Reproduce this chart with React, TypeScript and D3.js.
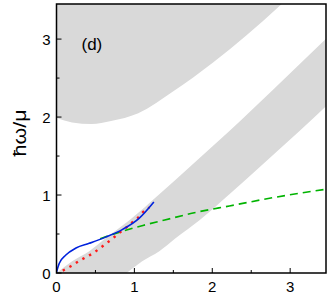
import * as d3 from "d3";

// plot frame in pixels
const W = 327;
const H = 299;
const margin = { left: 56.5, right: 1, top: 4, bottom: 26 };

// upper continuum: lower boundary (filled up to the top)
const upperEdgeX = [0, 0.2, 0.45, 0.7, 1.05, 1.5, 2.01, 2.44, 2.87, 3.05];
const upperEdgeY = [1.99, 1.93, 1.91, 1.95, 2.05, 2.33, 2.7, 3.05, 3.43, 3.6];

// lower band: top boundary and bottom boundary
const bandTopX = [0, 0.2, 0.42, 0.62, 0.94, 1.32, 1.71, 2.22, 2.8, 3.6];
const bandTopY = [0, 0.15, 0.28, 0.44, 0.68, 1.01, 1.36, 1.82, 2.37, 3.14];
const bandBotX = [0.9, 1.1, 1.32, 1.52, 1.84, 2.22, 2.61, 3.12, 3.7];
const bandBotY = [0, 0.15, 0.28, 0.44, 0.68, 1.01, 1.36, 1.82, 2.37];

// blue solid curve
const blueX = [0, 0.036, 0.12, 0.25, 0.42, 0.63, 0.85, 1.06, 1.25];
const blueY = [0.01, 0.125, 0.23, 0.32, 0.38, 0.46, 0.56, 0.7, 0.91];

// red dotted curve
const redX = [0.08, 0.19, 0.3, 0.39, 0.48, 0.56, 0.64, 0.73, 0.8, 0.88, 0.96, 1.04, 1.1, 1.19];
const redY = [0.03, 0.09, 0.16, 0.21, 0.26, 0.32, 0.38, 0.45, 0.51, 0.57, 0.64, 0.7, 0.77, 0.84];

// green dashed curve
const greenX = [0.56, 0.8, 1.11, 1.39, 1.8, 2.22, 2.8, 3.5];
const greenY = [0.44, 0.52, 0.61, 0.68, 0.78, 0.86, 0.97, 1.08];

const xTicks = [0, 0.5, 1, 1.5, 2, 2.5, 3];
const yTicks = [0, 0.5, 1, 1.5, 2, 2.5, 3];

const zip = (xs: number[], ys: number[]) => xs.map((x, i) => [x, ys[i]] as [number, number]);

export default function App() {
  const x = d3.scaleLinear().domain([0, 3.46]).range([margin.left, W - margin.right]);
  const y = d3.scaleLinear().domain([0, 3.45]).range([H - margin.bottom, margin.top]);

  const line = d3
    .line<[number, number]>()
    .x((d) => x(d[0]))
    .y((d) => y(d[1]))
    .curve(d3.curveMonotoneX);

  // upper gray region
  const upperPts = zip(upperEdgeX, upperEdgeY);
  const upperPath =
    line(upperPts) +
    `L${x(3.6)},${y(3.6)}L${x(3.6)},${y(4)}L${x(-0.1)},${y(4)}L${x(-0.1)},${y(upperEdgeY[0])}Z`;

  // lower gray band
  const topPts = zip(bandTopX, bandTopY);
  const botPts = zip(bandBotX, bandBotY).reverse();
  const botPath = (line(botPts) || "").replace(/^M/, "L");
  const bandPath = line(topPts) + botPath + "Z";

  const x0 = margin.left;
  const x1 = W - margin.right;
  const y0 = H - margin.bottom;
  const y1 = margin.top;

  const font = "'Liberation Sans', Arial, sans-serif";

  return (
    <svg
      width={W}
      height={H}
      style={{ position: "absolute", left: 0, top: 0, background: "#fff" }}
    >
      <defs>
        <clipPath id="plot">
          <rect x={x0} y={y1} width={x1 - x0} height={y0 - y1} />
        </clipPath>
      </defs>
      <g clipPath="url(#plot)">
        <path d={upperPath} fill="#d9d9d9" />
        <path d={bandPath} fill="#d9d9d9" />
        <path
          d={line(zip(greenX, greenY)) || ""}
          fill="none"
          stroke="#00b300"
          strokeWidth={1.6}
          strokeDasharray="8,5"
        />
        <path
          d={line(zip(redX, redY)) || ""}
          fill="none"
          stroke="#ff1a1a"
          strokeWidth={2.4}
          strokeDasharray="2.4,5.2"
        />
        <path d={line(zip(blueX, blueY)) || ""} fill="none" stroke="#0022dd" strokeWidth={1.6} />
      </g>

      {/* ticks */}
      {xTicks.map((t) => (
        <line
          key={"xt" + t}
          x1={x(t)}
          x2={x(t)}
          y1={y0}
          y2={y0 - (t % 1 === 0 ? 5 : 3)}
          stroke="#000"
          strokeWidth={1}
        />
      ))}
      {yTicks.map((t) => (
        <line
          key={"yt" + t}
          x1={x0}
          x2={x0 + (t % 1 === 0 ? 5 : 3)}
          y1={y(t)}
          y2={y(t)}
          stroke="#000"
          strokeWidth={1}
        />
      ))}

      {/* frame */}
      <rect x={x0} y={y1} width={x1 - x0} height={y0 - y1} fill="none" stroke="#000" strokeWidth={1.5} />

      {/* tick labels */}
      {xTicks
        .filter((t) => t % 1 === 0)
        .map((t) => (
          <text key={"xl" + t} x={x(t)} y={291.5} textAnchor="middle" fontSize={15} fontFamily={font}>
            {t}
          </text>
        ))}
      {yTicks
        .filter((t) => t % 1 === 0)
        .map((t) => (
          <text key={"yl" + t} x={50.5} y={y(t) + 5.5} textAnchor="end" fontSize={15} fontFamily={font}>
            {t}
          </text>
        ))}

      <text
        transform={`translate(26,133) rotate(-90)`}
        textAnchor="middle"
        fontSize={18}
        fontFamily={font}
        textLength={47}
        lengthAdjust="spacingAndGlyphs"
      >
        ħω/μ
      </text>
      <text x={81.5} y={50} fontSize={17} fontFamily={font}>
        (d)
      </text>
    </svg>
  );
}
